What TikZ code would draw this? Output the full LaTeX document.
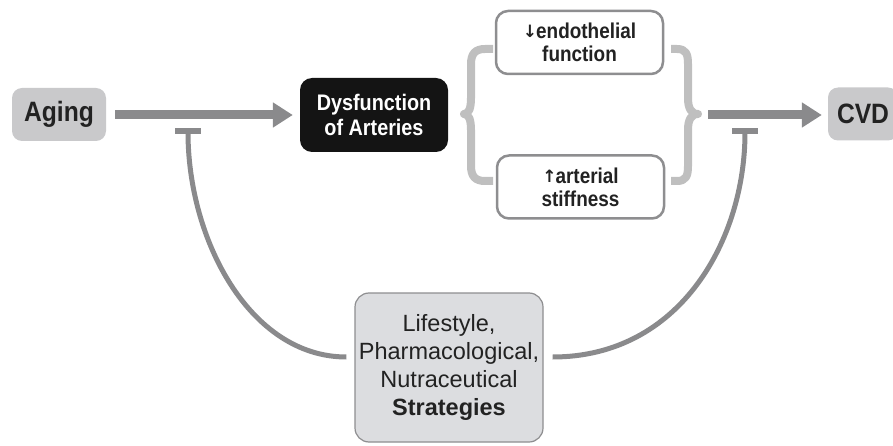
\documentclass[tikz,border=0pt]{standalone}
\usepackage{fontspec}
\setmainfont{Liberation Sans}
\newfontfamily\condb[FakeStretch=0.88]{Liberation Sans}
\newfontfamily\arrowfont{DejaVu Sans}
\usetikzlibrary{arrows.meta,calc}
\definecolor{arrowgray}{HTML}{8A8A8C}
\definecolor{bracegray}{HTML}{BFBFBF}
\definecolor{boxgray}{HTML}{C9C9CB}
\definecolor{stratgray}{HTML}{DCDDE0}
\definecolor{edgegray}{HTML}{8E8E90}
\definecolor{txt}{HTML}{222222}
\newcommand{\dnarr}{{\arrowfont\fontsize{17}{17}\selectfont\raisebox{1pt}{↓}}\hspace{-1pt}}
\newcommand{\uparr}{{\arrowfont\fontsize{17}{17}\selectfont\raisebox{1pt}{↑}}\hspace{-1pt}}
\begin{document}
\begin{tikzpicture}[x=1pt,y=-1pt,
  greybox/.style={fill=boxgray,rounded corners=10pt,inner sep=0pt,text=txt,
    font=\condb\bfseries\fontsize{28}{30}\selectfont},
  darkbox/.style={fill=black!92,rounded corners=12pt,inner sep=0pt,text=white,align=center,
    font=\condb\bfseries\fontsize{22.5}{25}\selectfont},
  effbox/.style={draw=edgegray,line width=2.5pt,fill=white,rounded corners=12pt,inner sep=0pt,
    text=txt,align=center,font=\condb\bfseries\fontsize{21.5}{23}\selectfont,
    minimum width=167pt,minimum height=63pt},
  stratbox/.style={draw=edgegray,line width=1.2pt,fill=stratgray,rounded corners=14pt,inner sep=0pt,
    text=txt,align=center,font=\fontsize{23.5}{28}\selectfont,minimum width=188pt,minimum height=149pt},
  promote/.style={draw=arrowgray,line width=9pt,-{Triangle[length=20pt,width=24pt]}},
  inhib/.style={draw=arrowgray,line width=5pt,-{Rectangle[length=6pt,width=26pt]}},
  bracepath/.style={draw=bracegray,line width=8pt,line join=round}
]
\useasboundingbox (0,0) rectangle (893,446);

\node[greybox,minimum width=94pt,minimum height=53pt] (aging) at (59,114.5) {Aging};
\node[darkbox,minimum width=148pt,minimum height=74pt] (dys) at (374,115) {Dysfunction\\of Arteries};
\node[effbox] (endo) at (579.5,42.5) {\dnarr endothelial\\function};
\node[effbox] (art) at (580.5,187) {\uparr arterial\\stiffness};
\node[greybox,minimum width=70pt,minimum height=53pt] (cvd) at (863,114) {CVD};
\node[stratbox] (strat) at (449,367.5) {Lifestyle,\\Pharmacological,\\Nutraceutical\\\textbf{Strategies}};

% braces
\draw[bracepath] (493,49) -- (485,49) .. controls (475,49) and (471,54) .. (471,64)
  -- (471,98) .. controls (471,108) and (469,114) .. (464,114)
  .. controls (469,114) and (471,120) .. (471,130)
  -- (471,166) .. controls (471,176) and (475,181) .. (485,181) -- (493,181);
\draw[bracepath] (671,49) -- (677,49) .. controls (686,49) and (688,54) .. (688,64)
  -- (688,98) .. controls (688,108) and (691,114) .. (698,114)
  .. controls (691,114) and (688,120) .. (688,130)
  -- (688,166) .. controls (688,176) and (686,181) .. (677,181) -- (671,181);

% promoting arrows
\coordinate (bout) at (708,115);
\draw[promote,shorten <=9pt,shorten >=7pt] (aging.east |- 0,115) -- (dys.west |- 0,115);
\draw[promote,shorten >=6pt] (bout) -- (cvd.west |- bout);

% inhibitory curves
\coordinate (sL) at ($(strat.west)+(-8,-10.5)$);
\coordinate (sR) at ($(strat.east)+(9,-10.5)$);
\coordinate (tL) at (188,128);
\coordinate (tR) at (745,128);
\draw[inhib] (sL) .. controls (250,357) and (188,240) .. (tL);
\draw[inhib] (sR) .. controls (680,357) and (745,240) .. (tR);
\end{tikzpicture}
\end{document}
